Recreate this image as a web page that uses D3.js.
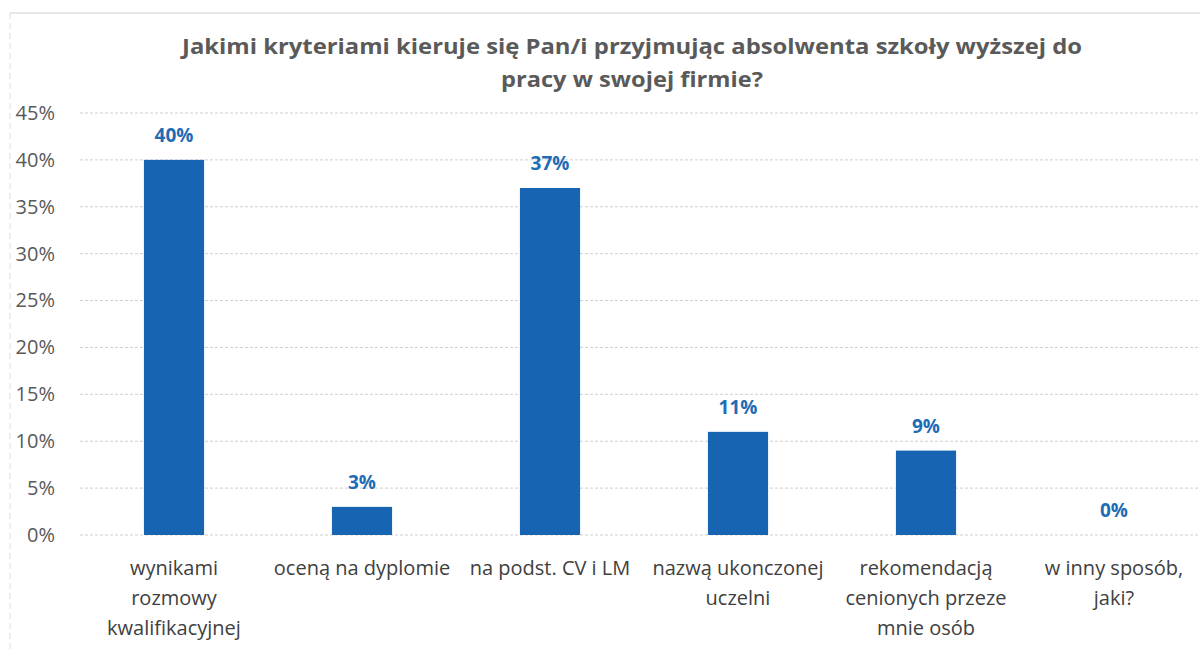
<!DOCTYPE html>
<html>
<head>
<meta charset="utf-8">
<script src="https://cdn.jsdelivr.net/npm/d3@7"></script>
<style>
  body { margin: 0; background: #fff; }
  text { font-family: "Open Sans", "Noto Sans", sans-serif; }
</style>
</head>
<body>
<div class="chart"></div>
<script>
// chart data
var categories = [
  ["wynikami", "rozmowy", "kwalifikacyjnej"],
  ["oceną na dyplomie"],
  ["na podst. CV i LM"],
  ["nazwą ukonczonej", "uczelni"],
  ["rekomendacją", "cenionych przeze", "mnie osób"],
  ["w inny sposób,", "jaki?"]
];
var values = [0.40, 0.03, 0.37, 0.11, 0.09, 0.00];
var yTicks = [0, 0.05, 0.10, 0.15, 0.20, 0.25, 0.30, 0.35, 0.40, 0.45];
var titleLines = [
  "Jakimi kryteriami kieruje się Pan/i przyjmując absolwenta szkoły wyższej do",
  "pracy w swojej firmie?"
];

var svgWidth = 1200, svgHeight = 650;
var margin = { top: 113, right: -8, bottom: 115, left: 80 };
var width = svgWidth - margin.left - margin.right;
var height = svgHeight - margin.top - margin.bottom;

var svg = d3.select(".chart").append("svg")
  .attr("width", svgWidth)
  .attr("height", svgHeight);

// faint frame of the scanned chart area
svg.append("line")
  .attr("x1", 10).attr("x2", svgWidth).attr("y1", 13).attr("y2", 13)
  .attr("stroke", "#d0d0d0").attr("stroke-width", 1);
svg.append("line")
  .attr("x1", 10).attr("x2", 10).attr("y1", 13).attr("y2", svgHeight)
  .attr("stroke", "#dcdcdc").attr("stroke-width", 1)
  .attr("stroke-dasharray", "6,4");

// title
svg.append("g").selectAll("text")
  .data(titleLines)
  .enter()
  .append("text")
  .attr("x", 632)
  .attr("y", (d, i) => 54 + i * 33)
  .attr("text-anchor", "middle")
  .attr("font-size", 22)
  .attr("font-weight", "bold")
  .attr("fill", "#5a5a5a")
  .attr("textLength", (d, i) => i === 0 ? 900 : 262)
  .attr("lengthAdjust", "spacingAndGlyphs")
  .text(d => d);

var chartGroup = svg.append("g")
  .attr("transform", `translate(${margin.left}, ${margin.top})`);

var xScale = d3.scaleBand()
  .domain(d3.range(categories.length))
  .range([0, width])
  .paddingInner(0.68)
  .paddingOuter(0.34);

var yScale = d3.scaleLinear()
  .domain([0, 0.45])
  .range([height, 0]);

// gridlines
chartGroup.append("g")
  .selectAll("line")
  .data(yTicks)
  .enter()
  .append("line")
  .attr("x1", 0)
  .attr("x2", width)
  .attr("y1", d => yScale(d))
  .attr("y2", d => yScale(d))
  .attr("stroke", "#cfcfcf")
  .attr("stroke-width", 1)
  .attr("stroke-dasharray", "3,2");

// y axis labels
var leftAxis = d3.axisLeft(yScale)
  .tickValues(yTicks)
  .tickFormat(d3.format(".0%"))
  .tickSize(0)
  .tickPadding(25);

var yAxis = chartGroup.append("g").call(leftAxis);
yAxis.select(".domain").remove();
yAxis.selectAll("text")
  .attr("font-size", 20)
  .attr("fill", "#595959")
  .style("font-family", "'Open Sans', sans-serif");

// bars
chartGroup.append("g")
  .selectAll("rect")
  .data(values)
  .enter()
  .append("rect")
  .attr("x", (d, i) => xScale(i))
  .attr("y", d => yScale(d))
  .attr("width", xScale.bandwidth())
  .attr("height", d => height - yScale(d))
  .attr("fill", "#1664b2");

// value labels
chartGroup.append("g")
  .selectAll("text")
  .data(values)
  .enter()
  .append("text")
  .attr("x", (d, i) => xScale(i) + xScale.bandwidth() / 2)
  .attr("y", d => yScale(d) - 18)
  .attr("text-anchor", "middle")
  .attr("font-size", 19)
  .attr("font-weight", "bold")
  .attr("fill", "#1f6cb5")
  .text(d => d3.format(".0%")(d));

// category labels
var catGroup = chartGroup.append("g")
  .selectAll("text")
  .data(categories)
  .enter()
  .append("text")
  .attr("text-anchor", "middle")
  .attr("font-size", 20)
  .attr("fill", "#404040");

catGroup.selectAll("tspan")
  .data((d, i) => d.map(line => ({ line: line, i: i })))
  .enter()
  .append("tspan")
  .attr("x", d => xScale(d.i) + xScale.bandwidth() / 2)
  .attr("y", (d, j) => height + 40 + j * 30)
  .text(d => d.line);
</script>
</body>
</html>
